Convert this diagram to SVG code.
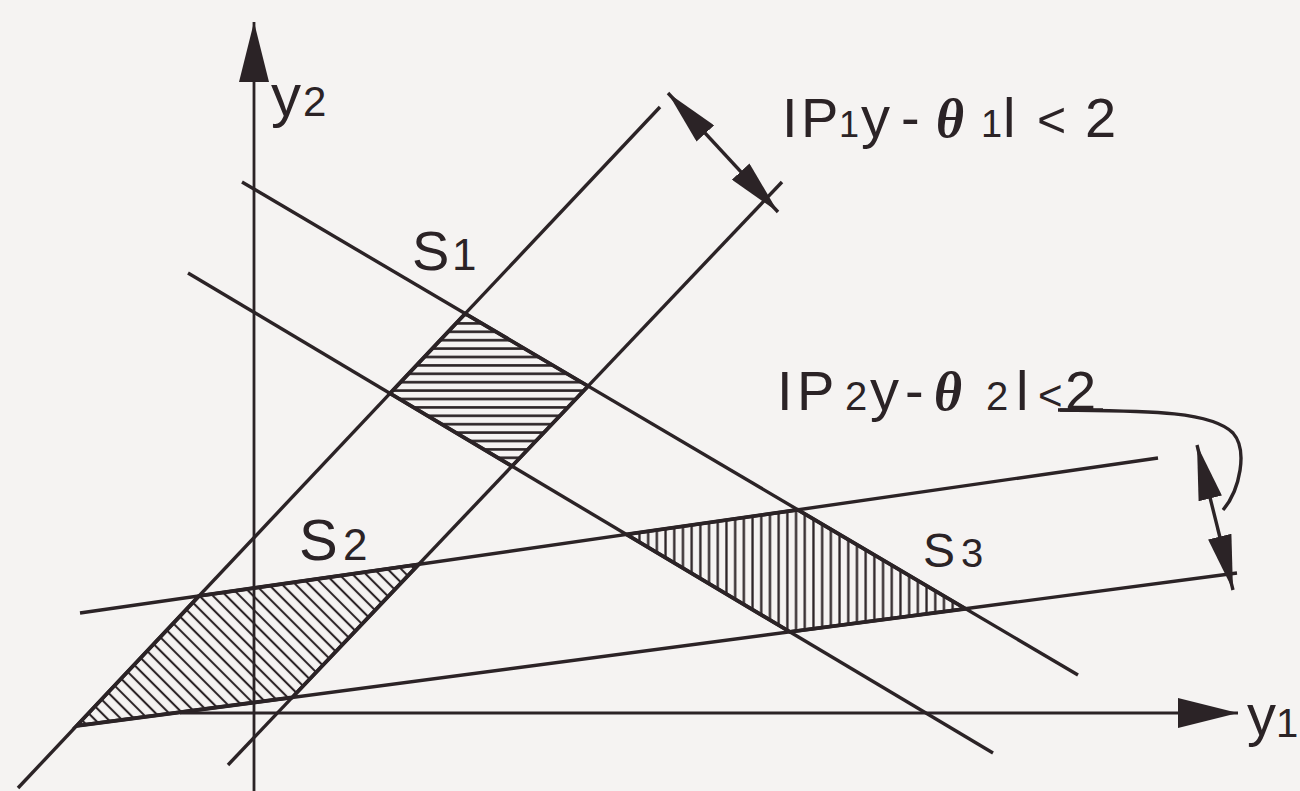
<svg xmlns="http://www.w3.org/2000/svg" width="1300" height="791" viewBox="0 0 1300 791">
  <style>
    .ln { stroke: #2b2326; stroke-width: 3.4; fill: none; stroke-linecap: butt; }
    .ax { stroke: #2b2326; stroke-width: 2.8; fill: none; }
    .edge { stroke: #2b2326; stroke-width: 3.8; stroke-linejoin: miter; }
    .t { font-family: "Liberation Sans", Arial, sans-serif; fill: #2b2326; }
    .th { font-family: "Liberation Serif", "Times New Roman", serif; font-style: italic; font-weight: bold; fill: #2b2326; }
  </style>
  <defs>
    <marker id="axisHead" viewBox="0 0 60 30" refX="60" refY="15" markerWidth="60" markerHeight="30" markerUnits="userSpaceOnUse" orient="auto">
      <path d="M0,0 L60,15 L0,30 Z" fill="#2b2326"/>
    </marker>
    <marker id="dimHead" viewBox="0 0 55 24" refX="55" refY="12" markerWidth="55" markerHeight="24" markerUnits="userSpaceOnUse" orient="auto-start-reverse">
      <path d="M0,0 L55,12 L0,24 Z" fill="#2b2326"/>
    </marker>
    <pattern id="hatchH" patternUnits="userSpaceOnUse" width="20" height="8.4">
      <line x1="0" y1="4.2" x2="20" y2="4.2" stroke="#2b2326" stroke-width="2.6"/>
    </pattern>
    <pattern id="hatchV" patternUnits="userSpaceOnUse" width="8.7" height="20">
      <line x1="4.35" y1="0" x2="4.35" y2="20" stroke="#2b2326" stroke-width="2.3"/>
    </pattern>
    <pattern id="hatchD" patternUnits="userSpaceOnUse" width="9.5" height="20" patternTransform="rotate(-45)">
      <line x1="4.75" y1="0" x2="4.75" y2="20" stroke="#2b2326" stroke-width="2.1"/>
    </pattern>
  </defs>

  <rect id="background" x="0" y="0" width="1300" height="791" fill="#f5f3f2"/>

  <!-- hatched regions -->
  <g id="S1">
    <polygon class="edge" fill="url(#hatchH)" points="465.2,313.6 588.1,386.1 512,466.2 390,393.4"/>
    <text class="t" x="412" y="270" font-size="56">S<tspan x="452" font-size="44">1</tspan></text>
  </g>
  <g id="S2">
    <polygon class="edge" fill="url(#hatchD)" points="199.1,595.9 418.8,564.3 292.2,697.5 76.6,725.8"/>
    <text class="t" x="299" y="560" font-size="58">S<tspan x="343" font-size="44">2</tspan></text>
  </g>
  <g id="S3">
    <polygon class="edge" fill="url(#hatchV)" points="626.4,534.4 797.8,509.8 965.7,608.8 789.9,631.9"/>
    <text class="t" x="923" y="567" font-size="48">S<tspan x="961" font-size="40">3</tspan></text>
  </g>

  <!-- constraint lines -->
  <g id="connectors">
    <line class="ln" x1="18" y1="788" x2="660" y2="107"/>
    <line class="ln" x1="228" y1="765" x2="782" y2="182"/>
    <line class="ln" x1="242" y1="182" x2="1078" y2="675"/>
    <line class="ln" x1="188" y1="273" x2="993" y2="753"/>
    <line class="ln" x1="80" y1="613" x2="1158" y2="458"/>
    <line class="ln" x1="76.6" y1="725.8" x2="1237" y2="573"/>
    <!-- width arrows -->
    <line class="ln" x1="668" y1="93" x2="778" y2="212" marker-start="url(#dimHead)" marker-end="url(#dimHead)"/>
    <line class="ln" x1="1197" y1="445" x2="1233" y2="590" marker-start="url(#dimHead)" marker-end="url(#dimHead)"/>
    <path class="ln" d="M1060,410 C1140,411 1210,410 1233,433 C1248,450 1240,490 1223,510"/>
    <line class="ln" x1="1058" y1="410" x2="1103" y2="410" stroke-width="4"/>
  </g>

  <!-- axes -->
  <g id="axis-y2">
    <line class="ax" x1="254" y1="791" x2="254" y2="22" marker-end="url(#axisHead)"/>
    <text class="t" x="271" y="116" font-size="60">y<tspan x="303" font-size="42">2</tspan></text>
  </g>
  <g id="axis-y1">
    <line class="ax" x1="180" y1="713" x2="1238" y2="713" marker-end="url(#axisHead)"/>
    <text class="t" x="1247" y="735" font-size="58">y<tspan x="1276" y="737" font-size="40">1</tspan></text>
  </g>

  <!-- labels -->
  <g id="label-1">
    <text class="t" y="137" font-size="56"><tspan x="782">I</tspan><tspan x="801">P</tspan><tspan x="839" font-size="36">1</tspan><tspan x="861" font-size="58">y</tspan><tspan x="901">-</tspan><tspan x="936" class="th" font-size="54">θ</tspan><tspan x="981" font-size="38">1</tspan><tspan x="1003">l</tspan><tspan x="1037" font-size="50">&lt;</tspan><tspan x="1085">2</tspan></text>
  </g>
  <g id="label-2">
    <text class="t" y="410" font-size="56"><tspan x="777">I</tspan><tspan x="797">P</tspan><tspan x="845" font-size="40">2</tspan><tspan x="870" font-size="58">y</tspan><tspan x="905">-</tspan><tspan x="934" class="th" font-size="54">θ</tspan><tspan x="986" font-size="40">2</tspan><tspan x="1016">l</tspan><tspan x="1038" font-size="42">&lt;</tspan><tspan x="1065">2</tspan></text>
  </g>
</svg>
